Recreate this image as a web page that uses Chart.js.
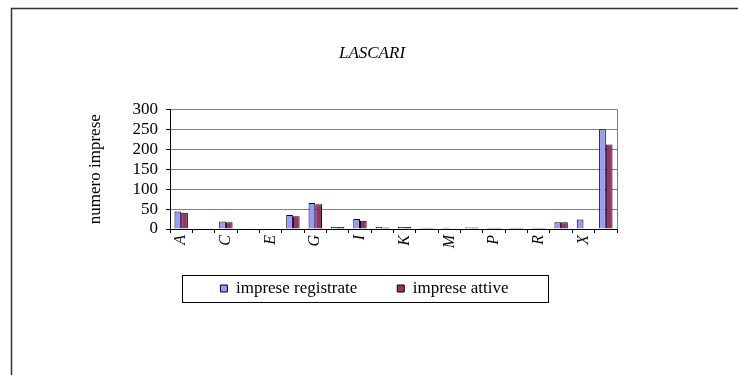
<!DOCTYPE html>
<html>
<head>
<meta charset="utf-8">
<script src="https://cdn.jsdelivr.net/npm/chart.js@4"></script>
<style>
  html, body { margin: 0; padding: 0; background: #fff; }
  #wrap { width: 738px; height: 375px; position: relative; }
</style>
</head>
<body>
<div id="wrap"><canvas id="chart" width="738" height="375"></canvas></div>
<script>
// ===== Data =====
const categories = ['A', 'B', 'C', 'D', 'E', 'F', 'G', 'H', 'I', 'J', 'K', 'L', 'M', 'N', 'P', 'Q', 'R', 'S', 'X', 'Totale'];
const impreseRegistrate = [44, 0, 19, 0, 1, 35, 65, 5, 25, 5, 5, 3, 3, 4, 3, 3, 3, 17, 24, 250];
const impreseAttive = [41, 0, 17, 0, 1, 32, 62, 5, 21, 4, 5, 3, 2, 4, 3, 3, 3, 17, 0, 212];
const yTicks = [0, 50, 100, 150, 200, 250, 300];

const serif = '"Liberation Serif", "DejaVu Serif", serif';
// where the title and legend should be centred
const TITLE_CX = 372;
const LEGEND_CX = 364.5;
const LEGEND_CY = 288.5;

// ===== Frame plugin: outer border, plot border, legend box =====
const framePlugin = {
  id: 'frame',
  beforeDraw(chart) {
    // title: centre it on the whole page like the reference
    const tb = chart.titleBlock;
    if (tb) {
      const tdx = TITLE_CX - (tb.left + tb.right) / 2;
      if (Math.abs(tdx) > 0.5) { tb.left += tdx; tb.right += tdx; }
    }
    const lg = chart.legend;
    const boxes = lg.legendHitBoxes;
    if (!boxes || !boxes.length) return;
    const first = boxes[0];
    const last = boxes[boxes.length - 1];
    const dx = LEGEND_CX - (first.left + last.left + last.width) / 2;
    const dy = LEGEND_CY - (first.top + first.height / 2);
    if (Math.abs(dx) > 0.5 || Math.abs(dy) > 0.5) {
      lg.left += dx; lg.right += dx;
      lg.top += dy; lg.bottom += dy;
      boxes.forEach(b => { b.left += dx; b.top += dy; });
    }
  },
  afterDraw(chart) {
    const ctx = chart.ctx;
    const a = chart.chartArea;
    ctx.save();
    // outer border
    ctx.strokeStyle = '#333';
    ctx.lineWidth = 1.5;
    ctx.beginPath();
    ctx.moveTo(11.5, 380);
    ctx.lineTo(11.5, 8.5);
    ctx.lineTo(740, 8.5);
    ctx.stroke();
    // right plot border
    ctx.strokeStyle = '#808080';
    ctx.lineWidth = 1;
    ctx.beginPath();
    ctx.moveTo(a.right + 0.5, a.top);
    ctx.lineTo(a.right + 0.5, a.bottom);
    ctx.stroke();
    // legend box
    const boxes = chart.legend.legendHitBoxes;
    if (boxes && boxes.length) {
      const first = boxes[0];
      const last = boxes[boxes.length - 1];
      const x0 = Math.round(first.left - 38) + 0.5;
      const x1 = Math.round(last.left + last.width + 39) + 0.5;
      const y0 = Math.round(first.top + first.height / 2 - 14) + 0.5;
      ctx.strokeStyle = '#000';
      ctx.lineWidth = 1;
      ctx.strokeRect(x0, y0, x1 - x0, 27);
    }
    ctx.restore();
  }
};

new Chart(document.getElementById('chart'), {
  type: 'bar',
  data: {
    labels: categories,
    datasets: [
      {
        label: 'imprese registrate',
        data: impreseRegistrate,
        backgroundColor: '#9999FF',
        borderColor: '#000',
        borderWidth: 1
      },
      {
        label: 'imprese attive',
        data: impreseAttive,
        backgroundColor: '#993366',
        borderColor: '#000',
        borderWidth: 1
      }
    ]
  },
  options: {
    responsive: false,
    animation: false,
    layout: { padding: { left: 80, right: 121, top: 0, bottom: 57 } },
    datasets: {
      bar: { categoryPercentage: 0.6, barPercentage: 1.0 }
    },
    plugins: {
      title: {
        display: true,
        text: 'LASCARI',
        color: '#000',
        font: { family: serif, size: 17, style: 'italic', weight: 'normal' },
        padding: { top: 43, bottom: 46 }
      },
      legend: {
        position: 'bottom',
        labels: {
          color: '#000',
          font: { family: serif, size: 17 },
          boxWidth: 7,
          boxHeight: 7,
          padding: 40
        }
      },
      tooltip: { enabled: false }
    },
    scales: {
      x: {
        offset: true,
        grid: { offset: true, drawOnChartArea: false, drawTicks: true, tickLength: 4, color: '#000' },
        border: { color: '#000', width: 1 },
        ticks: {
          autoSkip: false,
          minRotation: 90,
          maxRotation: 90,
          color: '#000',
          font: { family: serif, size: 16, style: 'italic' },
          padding: 2,
          callback: function (val, idx) {
            return idx % 2 === 0 ? this.getLabelForValue(val) : '';
          }
        },
        afterFit(scale) { scale.height = 22; }
      },
      y: {
        min: 0,
        max: 300,
        afterBuildTicks(scale) { scale.ticks = yTicks.map(v => ({ value: v })); },
        grid: { color: '#808080', lineWidth: 1, tickLength: 4, tickColor: '#000' },
        border: { color: '#000', width: 1 },
        ticks: {
          autoSkip: false,
          color: '#000',
          font: { family: serif, size: 17 },
          padding: 8
        },
        title: {
          display: true,
          text: 'numero imprese',
          color: '#000',
          font: { family: serif, size: 17 },
          padding: { top: 5, bottom: 0 }
        },
        afterFit(scale) { scale.width = 90; }
      }
    }
  },
  plugins: [framePlugin]
});
</script>
</body>
</html>
